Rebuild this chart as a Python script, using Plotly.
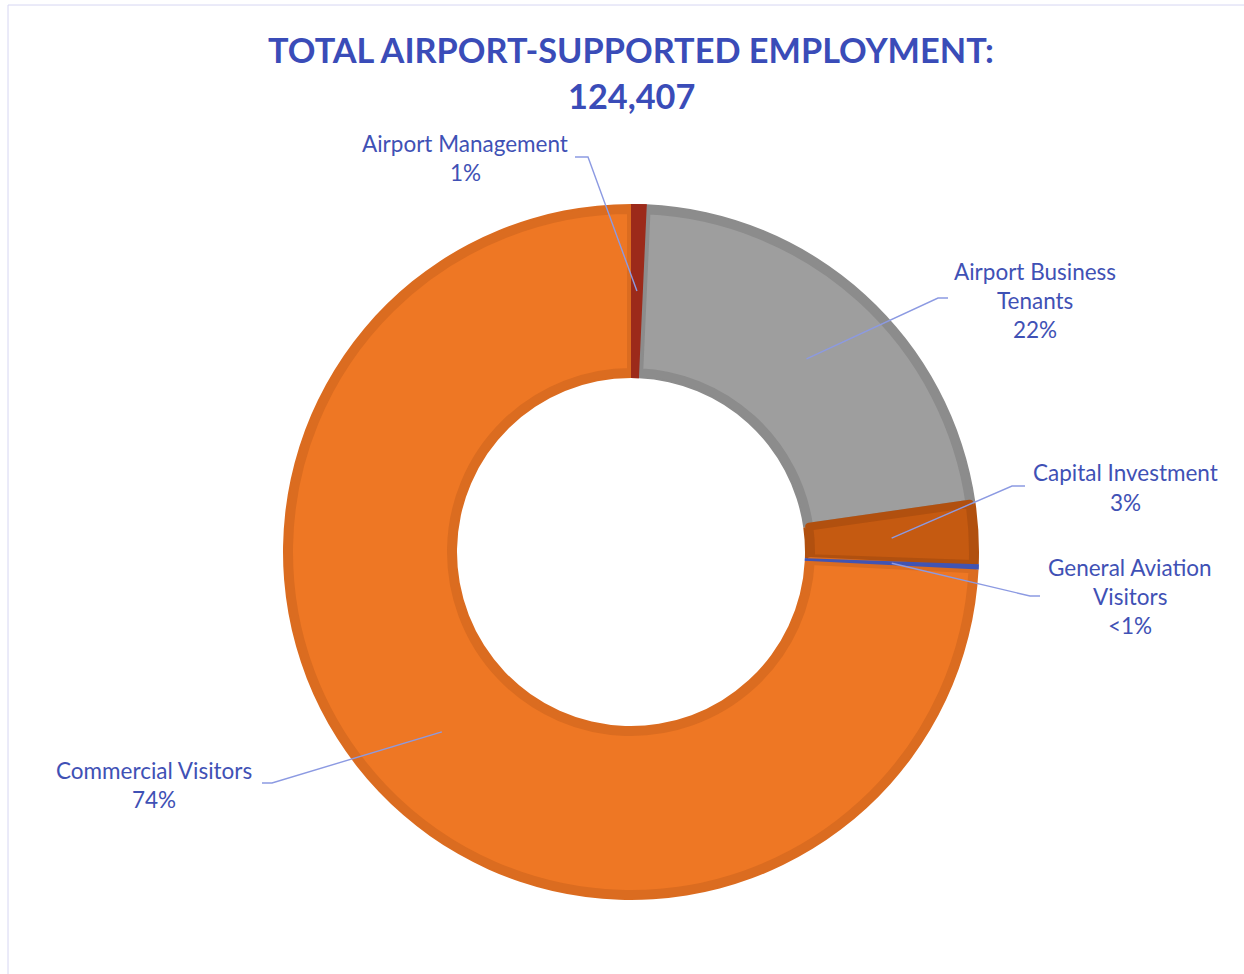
import math
import plotly.graph_objects as go

# ---------------- data ----------------
categories = ["Airport Management", "Airport Business Tenants", "Capital Investment",
              "General Aviation Visitors", "Commercial Visitors"]
employment = [900, 27400, 3500, 300, 92300]
label_lines = [["Airport Management"], ["Airport Business", "Tenants"], ["Capital Investment"],
               ["General Aviation", "Visitors"], ["Commercial Visitors"]]
title_lines = ["TOTAL AIRPORT-SUPPORTED EMPLOYMENT:", "124,407"]

# ---------------- styles / layout ----------------
W, H = 1244, 974
CX, CY = 631, 552
R_OUT, R_IN = 348, 174
INSET = 6
FONT = "Lato, 'Open Sans', sans-serif"
TEXT_COLOR = "#3F51B5"
LEADER_COLOR = "#8C9AE2"

light = ["#9C2A1A", "#9E9E9E", "#C55A11", "#4154B3", "#EE7724"]
dark = ["#9C2A1A", "#8C8C8C", "#B1500F", "#4154B3", "#DB6C20"]
thin = [True, False, False, True, False]

label_pos = [(465, 144), (1035, 271), (1125, 473), (1130, 567), (154, 770)]
elbows = [(588, 157, 575), (938, 298, 948), (1012, 486, 1025), (1030, 596, 1040), (272, 783, 262)]
LINE_GAP = 29


def px(x):
    return x / W


def py(y):
    return 1 - y / H


def dom(r):
    return dict(x=[px(CX - r), px(CX + r)], y=[py(CY + r), py(CY - r)])


total = sum(employment)
pct_text = []
for v in employment:
    p = v / total * 100
    pct_text.append("<1%" if p < 0.5 else f"{round(p)}%")

fig = go.Figure()

# base ring (darker edge colour)
fig.add_trace(go.Pie(labels=categories, values=employment, sort=False, direction="clockwise",
                     rotation=0, hole=R_IN / R_OUT, domain=dom(R_OUT), textinfo="none",
                     marker=dict(colors=dark, line=dict(width=0)), showlegend=False))

# inner lighter ring with darker stroke to emulate bevelled edges
r2o, r2i = R_OUT - INSET, R_IN + INSET
fig.add_trace(go.Pie(labels=categories, values=employment, sort=False, direction="clockwise",
                     rotation=0, hole=r2i / r2o, domain=dom(r2o), textinfo="none",
                     marker=dict(colors=[("rgba(0,0,0,0)" if t else c) for c, t in zip(light, thin)],
                                 line=dict(color=dark, width=[0 if t else 8 for t in thin])),
                     showlegend=False))

# thin slices redrawn on top
fig.add_trace(go.Pie(labels=categories, values=employment, sort=False, direction="clockwise",
                     rotation=0, hole=R_IN / R_OUT, domain=dom(R_OUT), textinfo="none",
                     marker=dict(colors=[(c if t else "rgba(0,0,0,0)") for c, t in zip(light, thin)],
                                 line=dict(width=0)), showlegend=False))

shapes = []
annotations = []
r_mid = (R_OUT + R_IN) / 2
cum = 0
for i, v in enumerate(employment):
    a = math.radians((cum + v / 2) / total * 360)
    cum += v
    sx, sy = CX + r_mid * math.sin(a), CY - r_mid * math.cos(a)
    ex, ey, tx = elbows[i]
    shapes.append(dict(type="path", xref="paper", yref="paper", layer="above",
                       path=f"M {px(sx)},{py(sy)} L {px(ex)},{py(ey)} L {px(tx)},{py(ey)}",
                       line=dict(color=LEADER_COLOR, width=1.4)))
    lx, ly = label_pos[i]
    for k, line in enumerate(label_lines[i] + [pct_text[i]]):
        annotations.append(dict(x=px(lx), y=py(ly + k * LINE_GAP), xref="paper", yref="paper",
                                text=line, showarrow=False, xanchor="center", yanchor="middle",
                                font=dict(family=FONT, size=22.5, color=TEXT_COLOR)))

annotations.append(dict(x=px(631), y=py(49), xref="paper", yref="paper", text=f"<b>{title_lines[0]}</b>",
                        showarrow=False, xanchor="center", yanchor="middle",
                        font=dict(family=FONT, size=34.3, color="#3A4CB8")))
annotations.append(dict(x=px(631), y=py(95), xref="paper", yref="paper", text=f"<b>{title_lines[1]}</b>",
                        showarrow=False, xanchor="center", yanchor="middle",
                        font=dict(family=FONT, size=34.3, color="#3A4CB8")))

# chart-area border (top and left edges visible)
shapes.append(dict(type="line", xref="paper", yref="paper", x0=px(8), x1=1, y0=py(5), y1=py(5),
                   line=dict(color="#D6D6F2", width=1)))
shapes.append(dict(type="line", xref="paper", yref="paper", x0=px(8), x1=px(8), y0=py(5), y1=0,
                   line=dict(color="#D6D6F2", width=1)))

fig.update_layout(width=W, height=H, autosize=False, margin=dict(l=0, r=0, t=0, b=0),
                  paper_bgcolor="white", plot_bgcolor="white", showlegend=False,
                  shapes=shapes, annotations=annotations)

fig.write_html("out.html")
